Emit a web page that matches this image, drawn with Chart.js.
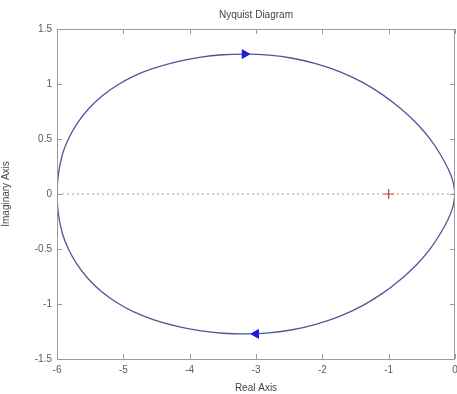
<!DOCTYPE html>
<html>
<head>
<meta charset="utf-8">
<title>Nyquist Diagram</title>
<script src="https://cdn.jsdelivr.net/npm/chart.js@4/dist/chart.umd.min.js"></script>
<style>
  html, body { margin: 0; padding: 0; background: #ffffff; }
  canvas { display: block; }
</style>
</head>
<body>
<canvas id="nyq" width="457" height="394"></canvas>
<script>
// Nyquist locus: real part and imaginary part, positive-frequency branch (upper half)
const upperRe = [-6.00, -5.98, -5.92, -5.83, -5.70, -5.53, -5.33, -5.10, -4.85, -4.55, -4.20, -3.85, -3.50, -3.15, -2.80, -2.45, -2.10, -1.75, -1.40, -1.10, -0.82, -0.58, -0.38, -0.22, -0.10, -0.03, 0.00];
const upperIm = [0.00, 0.177, 0.357, 0.497, 0.637, 0.770, 0.886, 0.986, 1.069, 1.141, 1.201, 1.243, 1.266, 1.272, 1.262, 1.234, 1.185, 1.115, 1.017, 0.906, 0.777, 0.643, 0.503, 0.359, 0.225, 0.113, 0.00];

// Negative-frequency branch (lower half), traced from 0 back to -6
const lowerRe = [0.00, -0.03, -0.10, -0.22, -0.38, -0.58, -0.82, -1.10, -1.40, -1.75, -2.10, -2.45, -2.80, -3.15, -3.50, -3.85, -4.20, -4.55, -4.85, -5.10, -5.33, -5.53, -5.70, -5.83, -5.92, -5.98, -6.00];
const lowerIm = [0.00, -0.113, -0.225, -0.359, -0.503, -0.643, -0.777, -0.906, -1.017, -1.115, -1.185, -1.234, -1.262, -1.272, -1.266, -1.243, -1.201, -1.141, -1.069, -0.986, -0.886, -0.770, -0.637, -0.497, -0.357, -0.177, 0.00];

// Direction arrows on the locus
const arrowRe = [-3.17, -3.00];
const arrowIm = [1.272, -1.272];
const arrowAngle = [90, -90];

// Critical point -1 + 0j
const criticalRe = [-1];
const criticalIm = [0];

// Real-axis reference line
const axisLineRe = [-6, 0];
const axisLineIm = [0, 0];

// Tick labels
const xTicks = [-6, -5, -4, -3, -2, -1, 0];
const yTicks = [-1.5, -1, -0.5, 0, 0.5, 1, 1.5];

const toPoints = (xs, ys) => xs.map((x, i) => ({ x: x, y: ys[i] }));

const curveColor = 'rgba(62, 66, 140, 0.9)';
const textColor = '#5a5a5a';
const frameColor = '#9a9a9a';
const fontFamily = 'Liberation Sans, Arial, sans-serif';

// Box frame with inward-pointing ticks on all four sides
const frameTicks = {
  id: 'frameTicks',
  afterDraw(chart) {
    const { ctx, chartArea: a, scales: { x, y } } = chart;
    const len = 5;
    ctx.save();
    ctx.strokeStyle = frameColor;
    ctx.lineWidth = 1;
    ctx.beginPath();
    ctx.rect(Math.round(a.left) + 0.5, Math.round(a.top) + 0.5,
             Math.round(a.right - a.left) - 1, Math.round(a.bottom - a.top));
    ctx.stroke();
    ctx.beginPath();
    x.ticks.forEach(t => {
      const px = Math.round(x.getPixelForValue(t.value)) + 0.5;
      ctx.moveTo(px, a.bottom); ctx.lineTo(px, a.bottom - len);
      ctx.moveTo(px, a.top); ctx.lineTo(px, a.top + len);
    });
    y.ticks.forEach(t => {
      const py = Math.round(y.getPixelForValue(t.value)) + 0.5;
      ctx.moveTo(a.left, py); ctx.lineTo(a.left + len, py);
      ctx.moveTo(a.right, py); ctx.lineTo(a.right - len, py);
    });
    ctx.stroke();
    ctx.restore();
  }
};

new Chart(document.getElementById('nyq'), {
  type: 'scatter',
  data: {
    datasets: [
      {
        label: 'real axis',
        data: toPoints(axisLineRe, axisLineIm),
        showLine: true,
        borderColor: 'rgba(150, 150, 160, 0.9)',
        borderWidth: 1,
        borderDash: [2, 3],
        pointRadius: 0,
        order: 4
      },
      {
        label: 'ω > 0',
        data: toPoints(upperRe, upperIm),
        showLine: true,
        borderColor: curveColor,
        borderWidth: 1.3,
        pointRadius: 0,
        tension: 0.4,
        order: 3
      },
      {
        label: 'ω < 0',
        data: toPoints(lowerRe, lowerIm),
        showLine: true,
        borderColor: curveColor,
        borderWidth: 1.3,
        pointRadius: 0,
        tension: 0.4,
        order: 3
      },
      {
        label: 'direction',
        data: toPoints(arrowRe, arrowIm),
        pointStyle: 'triangle',
        rotation: arrowAngle,
        pointRadius: 5,
        backgroundColor: '#1a1ad8',
        borderColor: '#1a1ad8',
        borderWidth: 1,
        order: 1
      },
      {
        label: '-1',
        data: toPoints(criticalRe, criticalIm),
        pointStyle: 'cross',
        pointRadius: 5,
        borderColor: '#d23a3a',
        borderWidth: 1.2,
        order: 2
      }
    ]
  },
  options: {
    responsive: false,
    animation: false,
    events: [],
    layout: { autoPadding: false, padding: { right: 2, left: 0, top: 0, bottom: 0 } },
    plugins: {
      legend: { display: false },
      tooltip: { enabled: false },
      title: {
        display: true,
        text: 'Nyquist Diagram',
        fullSize: false,
        color: '#444444',
        font: { family: fontFamily, size: 10, weight: 'normal', lineHeight: 1.2 },
        padding: { top: 9, bottom: 8 }
      }
    },
    scales: {
      x: {
        type: 'linear',
        min: -6,
        max: 0,
        afterBuildTicks: s => { s.ticks = xTicks.map(v => ({ value: v })); },
        afterFit: s => { s.height = 35; s.paddingLeft = 0; s.paddingRight = 0; },
        grid: { display: false, drawTicks: false },
        border: { display: false },
        ticks: {
          color: textColor,
          padding: 5,
          callback: v => String(v),
          font: { family: fontFamily, size: 10 }
        },
        title: {
          display: true,
          text: 'Real Axis',
          color: '#444444',
          padding: { top: 3, bottom: 0 },
          font: { family: fontFamily, size: 10 }
        }
      },
      y: {
        type: 'linear',
        min: -1.5,
        max: 1.5,
        afterBuildTicks: s => { s.ticks = yTicks.map(v => ({ value: v })); },
        afterFit: s => { s.width = 57; s.paddingTop = 0; s.paddingBottom = 0; },
        grid: { display: false, drawTicks: false },
        border: { display: false },
        ticks: {
          color: textColor,
          padding: 5,
          callback: v => String(v),
          font: { family: fontFamily, size: 10 }
        },
        title: {
          display: true,
          text: 'Imaginary Axis',
          color: '#444444',
          padding: { top: 0, bottom: 8 },
          font: { family: fontFamily, size: 10 }
        }
      }
    }
  },
  plugins: [frameTicks]
});
</script>
</body>
</html>
